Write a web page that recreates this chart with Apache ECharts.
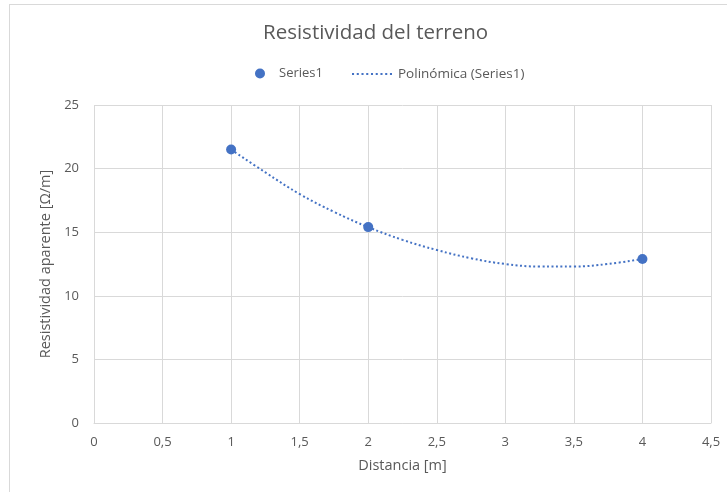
<!DOCTYPE html>
<html>
<head>
<meta charset="utf-8">
<script src="https://cdn.jsdelivr.net/npm/echarts@6/dist/echarts.min.js"></script>
<style>
  html, body { margin: 0; padding: 0; background: #fff; }
  #frame { position: absolute; left: 9px; top: 4px; width: 760px; height: 520px;
           border-left: 1.5px solid #d9d9d9; border-top: 1.5px solid #d9d9d9; box-sizing: border-box; }
  #chart { position: absolute; left: 0; top: 0; width: 727px; height: 492px; }
</style>
</head>
<body>
<div id="frame"></div>
<div id="chart"></div>
<script>
// Measured points: distance [m] vs apparent resistivity [Ω/m]
const distancia = [1, 2, 4];
const resistividad = [21.5, 15.4, 12.9];

// Second-order polynomial trendline, sampled every 0.25 m
const tendenciaX = [1, 1.25, 1.5, 1.75, 2, 2.25, 2.5, 2.75, 3, 3.25, 3.5, 3.75, 4];
const tendenciaY = [21.5, 19.7, 18.0, 16.6, 15.4, 14.4, 13.6, 12.95, 12.5, 12.3, 12.3, 12.5, 12.9];

const xTicks = ['0', '0,5', '1', '1,5', '2', '2,5', '3', '3,5', '4', '4,5'];

const serie = distancia.map((x, i) => [x, resistividad[i]]);
const tendencia = tendenciaX.map((x, i) => [x, tendenciaY[i]]);

const txt = '#595959';
const font = 'Open Sans';
const azul = '#4472C4';

// dotted legend key: short dashes in a 40x2 box
let dots = 'path://';
for (let i = 0; i < 9; i++) dots += 'M' + (i * 4.6) + ',0h2v2h-2z';

const chart = echarts.init(document.getElementById('chart'), null, { renderer: 'canvas' });
chart.setOption({
  animation: false,
  backgroundColor: 'transparent',
  title: {
    text: 'Resistividad del terreno',
    left: 258, top: 18,
    textStyle: { color: txt, fontFamily: font, fontSize: 20.5, fontWeight: 'normal' }
  },
  legend: [
    {
      top: 62, left: 250,
      itemWidth: 10, itemHeight: 10,
      textStyle: { color: txt, fontFamily: font, fontSize: 13, padding: [0, 0, 0, 9] },
      data: [{ name: 'Series1', icon: 'circle' }]
    },
    {
      top: 62, left: 347,
      itemWidth: 40, itemHeight: 10,
      textStyle: { color: txt, fontFamily: font, fontSize: 13.5, padding: [0, 0, 0, 1] },
      data: [{ name: 'Polinómica (Series1)', icon: dots }]
    }
  ],
  grid: { left: 94, right: 16, top: 105, bottom: 69 },
  xAxis: {
    type: 'value', min: 0, max: 4.5, interval: 0.5,
    name: 'Distancia [m]', nameLocation: 'middle', nameGap: 35,
    nameTextStyle: { color: txt, fontFamily: font, fontSize: 14.5 },
    axisLine: { show: true, lineStyle: { color: '#d9d9d9', width: 1 } },
    axisTick: { show: false },
    splitLine: { show: true, lineStyle: { color: '#d9d9d9', width: 1 } },
    axisLabel: {
      color: txt, fontFamily: font, fontSize: 13, margin: 13,
      formatter: v => xTicks[Math.round(v / 0.5)]
    }
  },
  yAxis: {
    type: 'value', min: 0, max: 25, interval: 5,
    name: 'Resistividad aparente [Ω/m]', nameLocation: 'middle', nameGap: 40,
    nameTextStyle: { color: txt, fontFamily: font, fontSize: 14.5 },
    axisLine: { show: false },
    axisTick: { show: false },
    splitLine: { show: true, lineStyle: { color: '#d9d9d9', width: 1 } },
    axisLabel: { color: txt, fontFamily: font, fontSize: 13, margin: 15 }
  },
  series: [
    {
      name: 'Series1', type: 'scatter', data: serie,
      symbol: 'circle', symbolSize: 10,
      itemStyle: { color: azul, opacity: 1 }, z: 3
    },
    {
      name: 'Polinómica (Series1)', type: 'line', data: tendencia,
      smooth: 0.4, showSymbol: false, symbol: 'none',
      itemStyle: { color: azul },
      lineStyle: { color: azul, width: 2, type: [2, 2.5] }, z: 2
    }
  ]
});
</script>
</body>
</html>
